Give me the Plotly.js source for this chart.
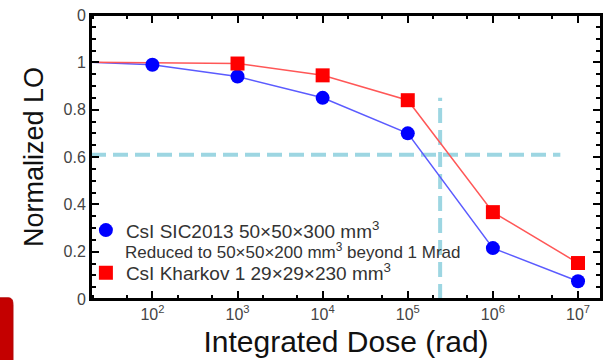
<!DOCTYPE html>
<html>
<head>
<meta charset="utf-8">
<script src="https://cdn.plot.ly/plotly-3.0.1.min.js"></script>
<style>html,body{margin:0;padding:0;background:#fff;}#chart{width:604px;height:360px;}</style>
</head>
<body>
<div id="chart"></div>
<script>
// Data
var doseBlue = [19, 1e2, 1e3, 1e4, 1e5, 1e6, 1e7];
var loBlue   = [1.0, 0.99, 0.94, 0.85, 0.70, 0.215, 0.075];
var doseRed  = [19, 1e3, 1e4, 1e5, 1e6, 1e7];
var loRed    = [1.0, 0.995, 0.945, 0.84, 0.367, 0.152];
var refLO = [0.61, 0.61];
var refLODose = [19, 6.2e6];
var refDose = [2.4e5, 2.4e5];
var refDoseLO = [0, 0.85];
var yTickVals = [0, 0.2, 0.4, 0.6, 0.8, 1, 1.2];
var yTickText = ['0', '0.2', '0.4', '0.6', '0.8', '1', '0'];
var xTickVals = [1e2, 1e3, 1e4, 1e5, 1e6, 1e7];
var xTickText = ['10<sup>2</sup>', '10<sup>3</sup>', '10<sup>4</sup>', '10<sup>5</sup>', '10<sup>6</sup>', '10<sup>7</sup>'];
var nameBlue = 'CsI SIC2013 50×50×300 mm<sup>3</sup>';
var nameRed = 'CsI Kharkov 1 29×29×230 mm<sup>3</sup>';
var noteText = 'Reduced to 50×50×200 mm<sup>3</sup> beyond 1 Mrad';

var cyan = '#9dd6e2';
var traces = [
  {x: refLODose, y: refLO, mode: 'lines', line: {color: cyan, width: 4, dash: '15px,7px'}, showlegend: false, hoverinfo: 'skip'},
  {x: refDose, y: refDoseLO, mode: 'lines', line: {color: cyan, width: 4, dash: '15px,7px'}, showlegend: false, hoverinfo: 'skip'},
  {x: doseBlue, y: loBlue, mode: 'lines', line: {color: '#5b5bff', width: 1.5}, showlegend: false},
  {x: doseRed, y: loRed, mode: 'lines', line: {color: '#ff5757', width: 1.5}, showlegend: false},
  {x: doseBlue.slice(1), y: loBlue.slice(1), name: nameBlue, mode: 'markers', legendgroup: 'a',
   marker: {color: '#0000ff', symbol: 'circle', size: 14}},
  {x: doseRed.slice(1), y: loRed.slice(1), name: nameRed, mode: 'markers', legendgroup: 'b',
   marker: {color: '#ff0000', symbol: 'square', size: 14}}
];

var xr = [Math.log10(19), 7.27];
var layout = {
  width: 604, height: 360,
  margin: {l: 91, r: 3, t: 15, b: 61},
  paper_bgcolor: '#fff', plot_bgcolor: '#fff',
  font: {family: 'Liberation Sans, Arial, sans-serif', color: '#444'},
  showlegend: true,
  legend: {x: -0.01, xanchor: 'left', y: 0.309, yanchor: 'top', bgcolor: 'rgba(0,0,0,0)',
           font: {size: 19, color: '#333'}, tracegroupgap: 15},
  xaxis: {type: 'log', range: xr, showgrid: false, zeroline: false,
          showline: true, linecolor: '#000000', linewidth: 2, mirror: 'ticks',
          ticks: 'inside', ticklen: 8, tickwidth: 2, tickcolor: '#000000',
          tickvals: xTickVals, ticktext: xTickText, tickfont: {size: 16, color: '#444'},
          minor: {ticks: 'inside', ticklen: 4, tickcolor: '#000000', showgrid: false},
          title: {text: 'Integrated Dose (rad)', font: {size: 30, color: '#111'}, standoff: 9}},
  yaxis: {range: [0, 1.2], showgrid: false, zeroline: false,
          showline: true, linecolor: '#000000', linewidth: 2, mirror: 'ticks',
          ticks: 'inside', ticklen: 8, tickwidth: 2, tickcolor: '#000000',
          tickvals: yTickVals, ticktext: yTickText, tickfont: {size: 16, color: '#444'},
          minor: {ticks: 'inside', ticklen: 5, tickcolor: '#000000', showgrid: false},
          title: {text: 'Normalized LO', font: {size: 27, color: '#111'}, standoff: 12}},
  annotations: [
    {xref: 'paper', yref: 'paper', x: 0.063, y: 0.17, xanchor: 'left', yanchor: 'middle', showarrow: false,
     text: noteText, font: {size: 17, color: '#333'}}
  ],
  shapes: [
    {type: 'rect', xref: 'paper', yref: 'paper', x0: 0, x1: 1, y0: 0, y1: 1, layer: 'above',
     fillcolor: 'rgba(0,0,0,0)', line: {color: '#000000', width: 2}},
    {type: 'path', xref: 'paper', yref: 'paper', layer: 'above',
     path: 'M -0.2,-0.25 L -0.2,0.004 L -0.161,0.004 Q -0.153,0.004 -0.153,-0.02 L -0.153,-0.25 Z',
     fillcolor: '#c40000', line: {color: '#b00000', width: 1}}
  ]
};
Plotly.newPlot('chart', traces, layout, {staticPlot: true, displayModeBar: false});
</script>
</body>
</html>
